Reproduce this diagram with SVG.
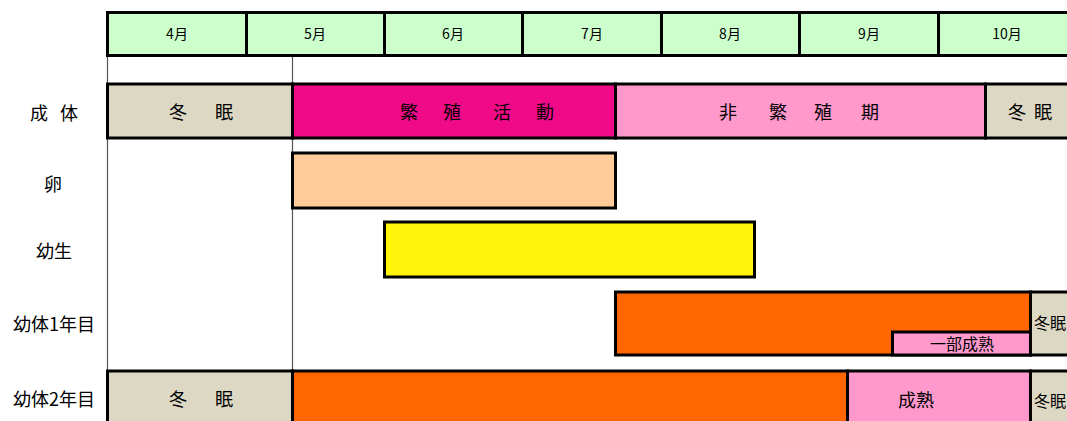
<svg xmlns="http://www.w3.org/2000/svg" width="1067" height="421" viewBox="0 0 1067 421">
<style>
text{font-family:"Noto Sans CJK JP","Noto Sans",sans-serif;fill:#000;text-anchor:middle;dominant-baseline:central}
.m{font-size:14px}
.l{font-size:18px}
.b{font-size:18px}
.s{font-size:16px}
.box{stroke:#000;stroke-width:3}
.grid{stroke:#555;stroke-width:1.2;fill:none}
</style>
<rect width="1067" height="421" fill="#fff"/>
<g id="gridlines">
<line class="grid" x1="107.5" y1="55" x2="107.5" y2="421"/>
<line class="grid" x1="292.5" y1="55" x2="292.5" y2="370"/>
</g>
<g id="header">
<rect class="box" x="107.5" y="12.5" width="970" height="43" fill="#ccffcc"/>
<g stroke="#000" stroke-width="3">
<line x1="246.5" y1="12" x2="246.5" y2="57"/>
<line x1="384.5" y1="12" x2="384.5" y2="57"/>
<line x1="522.5" y1="12" x2="522.5" y2="57"/>
<line x1="661.5" y1="12" x2="661.5" y2="57"/>
<line x1="799.5" y1="12" x2="799.5" y2="57"/>
<line x1="938.5" y1="12" x2="938.5" y2="57"/>
</g>
<text class="m" x="177" y="33">4月</text>
<text class="m" x="315" y="33">5月</text>
<text class="m" x="453" y="33">6月</text>
<text class="m" x="592" y="33">7月</text>
<text class="m" x="730" y="33">8月</text>
<text class="m" x="869" y="33">9月</text>
<text class="m" x="1007" y="33">10月</text>
</g>
<g id="row-labels">
<text class="l" x="39" y="112">成</text>
<text class="l" x="69" y="112">体</text>
<text class="l" x="53" y="183">卵</text>
<text class="l" x="54" y="250">幼生</text>
<text class="l" x="54" y="323">幼体1年目</text>
<text class="l" x="54" y="398">幼体2年目</text>
</g>
<g id="adult">
<rect class="box" x="107.5" y="84" width="185" height="54" fill="#ddd8c4"/>
<rect class="box" x="292.5" y="84" width="323" height="54" fill="#f00a88"/>
<rect class="box" x="615.5" y="84" width="370" height="54" fill="#ff99cc"/>
<rect class="box" x="985.5" y="84" width="100" height="54" fill="#ddd8c4"/>
<text class="b" x="178 224" y="111">冬眠</text>
<text class="b" x="409 452 502 545" y="111">繁殖活動</text>
<text class="b" x="728 778 823 870" y="111">非繁殖期</text>
<text class="b" x="1017 1043" y="111">冬眠</text>
</g>
<g id="egg">
<rect class="box" x="292.5" y="153" width="323" height="55" fill="#ffcc99"/>
</g>
<g id="larva">
<rect class="box" x="384.5" y="222" width="370" height="55" fill="#fff50a"/>
</g>
<g id="juv1">
<rect class="box" x="615.5" y="292" width="415" height="63" fill="#ff6600"/>
<rect class="box" x="892.5" y="332" width="138" height="23" fill="#ff99cc"/>
<rect class="box" x="1030.5" y="292" width="60" height="63" fill="#ddd8c4"/>
<text class="s" x="962" y="343">一部成熟</text>
<text class="s" x="1050" y="322">冬眠</text>
</g>
<g id="juv2">
<rect class="box" x="107.5" y="371" width="185" height="60" fill="#ddd8c4"/>
<rect class="box" x="292.5" y="371" width="555" height="60" fill="#ff6600"/>
<rect class="box" x="847.5" y="371" width="183" height="60" fill="#ff99cc"/>
<rect class="box" x="1030.5" y="371" width="60" height="60" fill="#ddd8c4"/>
<text class="b" x="178 224" y="398">冬眠</text>
<text class="b" x="916" y="399">成熟</text>
<text class="s" x="1050" y="400">冬眠</text>
</g>
</svg>
